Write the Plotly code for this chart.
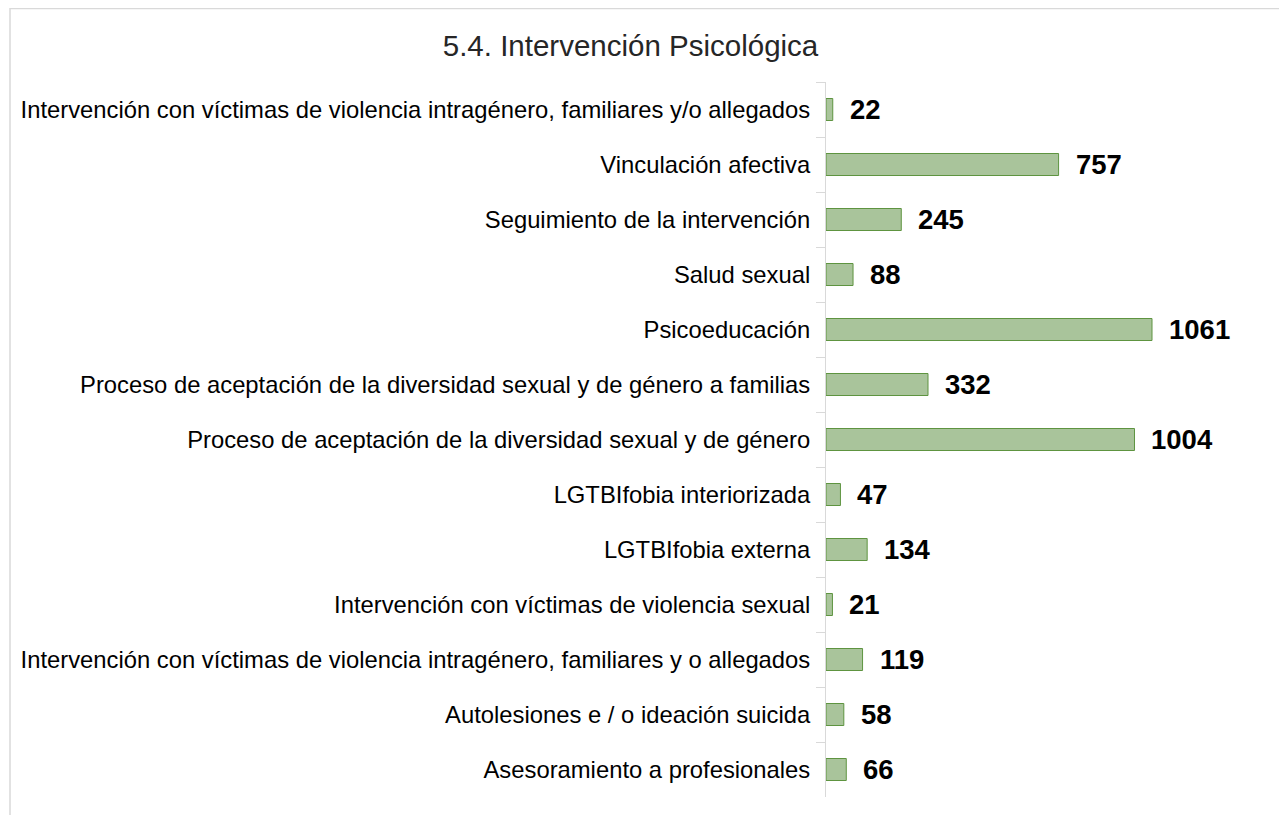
import plotly.graph_objects as go

categories = [
    "Intervención con víctimas de violencia intragénero, familiares y/o allegados",
    "Vinculación afectiva",
    "Seguimiento de la intervención",
    "Salud sexual",
    "Psicoeducación",
    "Proceso de aceptación de la diversidad sexual y de género a familias",
    "Proceso de aceptación de la diversidad sexual y de género",
    "LGTBIfobia interiorizada",
    "LGTBIfobia externa",
    "Intervención con víctimas de violencia sexual",
    "Intervención con víctimas de violencia intragénero, familiares y o allegados",
    "Autolesiones e / o ideación suicida",
    "Asesoramiento a profesionales",
]
values = [22, 757, 245, 88, 1061, 332, 1004, 47, 134, 21, 119, 58, 66]

# page body adds an 8px offset, so layout coordinates are shifted by -8
W, H = 1287, 815
L, R, T, B = 818, 33, 74, 26
pw = W - L - R
ph = H - T - B

fig = go.Figure()
fig.add_trace(go.Bar(
    x=values,
    y=categories,
    orientation="h",
    width=0.4,
    marker=dict(color="#a9c49b", line=dict(color="#5e9440", width=1)),
    hoverinfo="x+y",
))

# value labels to the right of each bar
for c, v in zip(categories, values):
    fig.add_annotation(x=v, y=c, text=f"<b>{v}</b>", showarrow=False,
                       xanchor="left", xshift=15,
                       font=dict(size=27.5, color="#000000"))

# outer chart border
fig.add_shape(type="rect", xref="paper", yref="paper",
              x0=(2 - L) / pw, x1=(1274 - L) / pw,
              y0=1 - (830 - T) / ph, y1=1 + (T - 0.5) / ph,
              line=dict(color="#d9d9d9", width=1.5), layer="below")

fig.update_layout(
    width=W, height=H,
    margin=dict(l=L, r=R, t=T, b=B),
    paper_bgcolor="white", plot_bgcolor="white",
    font=dict(family="Arial, Liberation Sans, sans-serif", size=23.8, color="#000000"),
    title=dict(text="5.4. Intervención Psicológica", x=(630.5 - 8) / W, xanchor="center",
               y=1 - 38 / H, yanchor="middle",
               font=dict(size=29.5, color="#262626")),
    showlegend=False,
    bargap=0.6,
)
fig.update_xaxes(range=[0, 1419], visible=False, showgrid=False, zeroline=False)
fig.update_yaxes(
    autorange="reversed",
    showline=True, linecolor="#d9d9d9", linewidth=1,
    ticks="outside", tickson="boundaries", ticklen=9, tickcolor="#d9d9d9",
    showgrid=False, ticklabelstandoff=10,
)

fig.write_html("out.html")
